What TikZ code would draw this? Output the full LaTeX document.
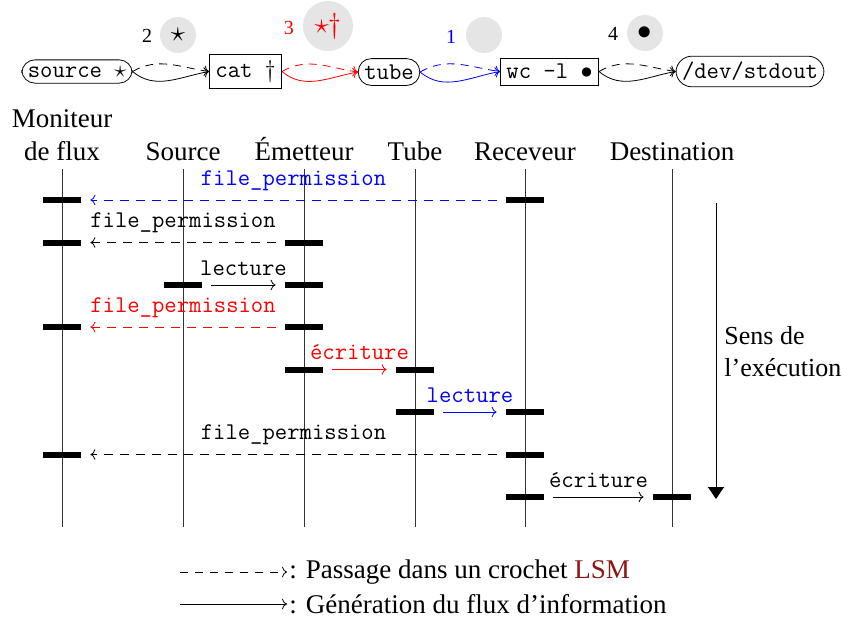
\documentclass[tikz,border=0pt]{standalone}
\usepackage{fontspec}
\setmainfont{Liberation Serif}
\usetikzlibrary{arrows.meta,calc}
\definecolor{lsmred}{RGB}{140,20,20}
\definecolor{circgray}{gray}{0.9}
\begin{document}
\begin{tikzpicture}[x=0.5pt,y=-0.5pt,
  every node/.style={font=\fontsize{13.5}{16.2}\selectfont},
  tt/.style={font=\fontsize{12}{14}\selectfont\ttfamily},
  cmd/.style={tt, draw, rectangle, inner sep=3pt},
  file/.style={tt, draw, rounded corners=6.5pt, inner sep=3pt},
  bubble/.style={circle, fill=circgray, inner sep=0pt, minimum size=18pt},
  num/.style={font=\fontsize{10}{12}\selectfont},
  txt/.style={inner sep=0pt, font=\fontsize{13}{15.6}\selectfont},
  life/.style={draw=black!80, line width=0.5pt},
  bar/.style={fill=black, minimum width=19pt, minimum height=3pt, inner sep=0pt},
  flow/.style={->, line width=0.4pt, shorten >=4.5pt, shorten <=4.5pt},
  hook/.style={flow, dash pattern=on 4.5pt off 3.5pt},
  topdash/.style={->, dash pattern=on 4pt off 3pt},
  lbl/.style={tt, midway, above, inner sep=4.5pt},
  execarrow/.style={-{Triangle[length=6pt,width=8pt]}, line width=0.5pt},
]
\useasboundingbox (0,0) rectangle (843,617);

% ---------- top pipeline ----------
\node[file] (src) at (77,71.5) {source $\star$};
\node[cmd]  (cat) at (245.5,71.5) {cat $\dagger$};
\node[file] (tub) at (389,72) {tube};
\node[cmd]  (wc)  at (549.5,71.5) {wc -l $\bullet$};
\node[file, rounded corners=8pt] (out) at (750,71.5) {/dev/stdout};

\draw[topdash] (src.east) to[out=30,in=172] (cat.west);
\draw[->] (src.east) to[out=-40,in=190] (cat.west);
\draw[topdash, red] (cat.east) to[out=30,in=172] (tub.west);
\draw[->, red] (cat.east) to[out=-40,in=190] (tub.west);
\draw[topdash, blue] (tub.east) to[out=30,in=172] (wc.west);
\draw[->, blue] (tub.east) to[out=-40,in=190] (wc.west);
\draw[topdash] (wc.east) to[out=30,in=172] (out.west);
\draw[->] (wc.east) to[out=-40,in=190] (out.west);

\node[num] (n2) at (147,36) {2};
\node[bubble] (c2) at (178,35) {$\star$};
\node[num, text=red] (n3) at (289,28) {3};
\node[bubble, minimum size=25pt, text=red] (c3) at (328,26) {$\star\dagger$};
\node[num, text=blue] (n1) at (451,37) {1};
\node[bubble] (c1) at (484,35) {};
\node[num] (n4) at (613,34) {4};
\node[bubble] (c4) at (645,33) {$\bullet$};

% ---------- headers ----------
\node[anchor=base] (hmon1) at (62,127) {Moniteur};
\node[anchor=base] (hmon) at (62,160) {de flux};
\node[anchor=base] (hsrc) at (183,160) {Source};
\node[anchor=base] (hemt) at (304,160) {Émetteur};
\node[anchor=base] (htub) at (415,160) {Tube};
\node[anchor=base] (hrec) at (525,160) {Receveur};
\node[anchor=base] (hdst) at (672,160) {Destination};

% ---------- lifelines ----------
\foreach \n/\x in {mon/62, src/183, emt/304, tub/415, rec/525, dst/672}{
  \coordinate (top\n) at (\x,169);
  \coordinate (bot\n) at (\x,527);
  \draw[life] (top\n) -- (bot\n);
}

% ---------- execution direction ----------
\coordinate (exA) at (716,203);
\coordinate (exB) at (716,499);
\draw[execarrow] (exA) -- (exB);
\node[txt, anchor=base west] (sens1) at (724,344) {Sens de};
\node[txt, anchor=base west] (sens2) at (724,376) {l’exécution};

% ---------- activation bars ----------
\node[bar] (b1m) at (62,200) {};   \node[bar] (b1r) at (525,200) {};
\node[bar] (b2m) at (62,242.5) {}; \node[bar] (b2e) at (304,242.5) {};
\node[bar] (b3s) at (183,285) {};  \node[bar] (b3e) at (304,285) {};
\node[bar] (b4m) at (62,327) {};   \node[bar] (b4e) at (304,327) {};
\node[bar] (b5e) at (304,369.5) {};\node[bar] (b5t) at (415,369.5) {};
\node[bar] (b6t) at (415,412) {};  \node[bar] (b6r) at (525,412) {};
\node[bar] (b7m) at (62,454.5) {}; \node[bar] (b7r) at (525,454.5) {};
\node[bar] (b8r) at (525,497) {};  \node[bar] (b8d) at (672,497) {};

% ---------- messages ----------
\draw[hook, blue] (b1r.west) -- node[lbl, text=blue] (l1) {file\_permission} (b1m.east);
\draw[hook] (b2e.west) -- node[lbl] (l2) {file\_permission} (b2m.east);
\draw[flow] (b3s.east) -- node[lbl] (l3) {lecture} (b3e.west);
\draw[hook, red] (b4e.west) -- node[lbl, text=red] (l4) {file\_permission} (b4m.east);
\draw[flow, red] (b5e.east) -- node[lbl, text=red] (l5) {écriture} (b5t.west);
\draw[flow, blue] (b6t.east) -- node[lbl, text=blue] (l6) {lecture} (b6r.west);
\draw[hook] (b7r.west) -- node[lbl] (l7) {file\_permission} (b7m.east);
\draw[flow] (b8r.east) -- node[lbl] (l8) {écriture} (b8d.west);

% ---------- legend ----------
\coordinate (lg1s) at (180,572);
\coordinate (lg2s) at (180,604);
\node[anchor=west, inner sep=1pt] (lg1) at (287,572) {: Passage dans un crochet \textcolor{lsmred}{LSM}};
\node[anchor=west, inner sep=1pt] (lg2) at (287,604) {: Génération du flux d’information};
\draw[->, dash pattern=on 4pt off 3.5pt] (lg1s) -- (lg1.west);
\draw[->] (lg2s) -- (lg2.west);
\end{tikzpicture}
\end{document}
